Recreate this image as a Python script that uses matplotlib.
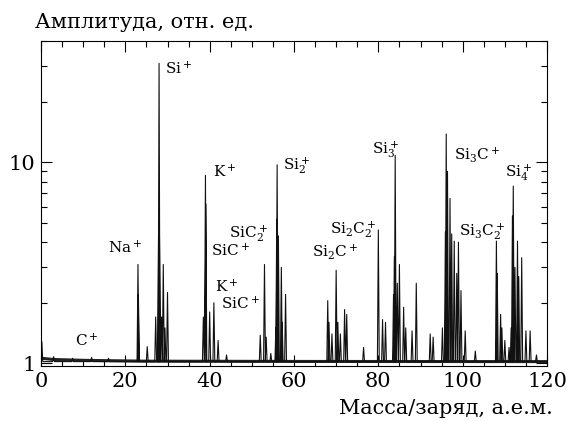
import matplotlib.pyplot as plt
import numpy as np
from matplotlib.ticker import MultipleLocator, LogLocator, NullFormatter, FixedLocator

plt.rcParams["font.family"] = "DejaVu Serif"
plt.rcParams["mathtext.fontset"] = "dejavuserif"

# peak positions (a.m.u.) and amplitudes
peak_mass = [0.2, 3.0, 7.5, 12.0, 16.0, 23.0, 23.1, 25.2, 27.2, 27.9, 28.0, 28.1,
             28.6, 29.0, 29.4, 30.0, 38.5, 39.0, 39.1, 40.0, 41.0, 42.0, 44.0,
             52.0, 53.0, 53.4, 54.5, 55.7, 55.9, 56.0, 56.3, 57.0, 57.2, 58.0,
             68.0, 68.3, 69.0, 70.0, 70.4, 71.0, 72.0, 72.5, 76.5, 80.0, 81.0,
             81.7, 83.6, 83.8, 84.0, 84.5, 85.0, 86.0, 86.5, 88.0, 89.0, 92.3,
             93.0, 95.2, 95.9, 96.1, 96.4, 97.0, 97.4, 98.0, 98.6, 99.0, 99.6,
             100.6, 103.0, 108.0, 108.2, 109.0, 109.3, 110.0, 111.0, 111.5,
             111.8, 112.0, 112.4, 113.0, 113.3, 114.0, 115.0, 116.0, 117.5]
peak_amp = [1.28, 1.08, 1.06, 1.07, 1.06, 3.1, 2.2, 1.21, 1.7, 5.1, 31.0, 4.2,
            1.7, 3.1, 1.5, 2.25, 1.7, 8.6, 6.2, 1.8, 2.0, 1.3, 1.1,
            1.38, 3.1, 1.35, 1.12, 1.5, 5.2, 9.7, 4.3, 3.0, 1.6, 2.2,
            2.05, 1.6, 1.4, 2.9, 1.6, 1.4, 1.85, 1.75, 1.2, 4.6, 1.65,
            1.6, 2.2, 3.4, 10.8, 2.5, 3.1, 1.9, 1.5, 1.45, 2.5, 1.4,
            1.35, 1.5, 4.5, 13.8, 9.0, 6.6, 4.4, 4.05, 2.8, 4.0, 2.3,
            1.45, 1.15, 4.05, 2.8, 1.75, 1.5, 1.3, 1.2, 1.5,
            5.4, 7.6, 3.0, 4.05, 2.7, 3.35, 1.45, 1.45, 1.1]
base_level = 1.02

# noisy background level read at a few masses
bg_mass = [0, 3, 10, 25, 60, 120]
bg_amp = [1.06, 1.045, 1.035, 1.025, 1.022, 1.02]

# annotations: text, mass, amplitude
label_text = [r"$\mathrm{C}^+$", r"$\mathrm{Na}^+$", r"$\mathrm{Si}^+$", r"$\mathrm{K}^+$",
              r"$\mathrm{SiC}_2^+$", r"$\mathrm{SiC}^+$", r"$\mathrm{K}^+$", r"$\mathrm{SiC}^+$",
              r"$\mathrm{Si}_2^+$", r"$\mathrm{Si}_2\mathrm{C}^+$", r"$\mathrm{Si}_2\mathrm{C}_2^+$",
              r"$\mathrm{Si}_3^+$", r"$\mathrm{Si}_3\mathrm{C}^+$", r"$\mathrm{Si}_3\mathrm{C}_2^+$",
              r"$\mathrm{Si}_4^+$"]
label_mass = [8.1, 15.9, 29.4, 40.8, 44.6, 40.3, 41.3, 42.7, 57.4, 64.3, 68.5,
              78.5, 98.0, 99.2, 110.0]
label_amp = [1.30, 3.75, 29.0, 9.0, 4.4, 3.65, 2.4, 1.98, 9.6, 3.6, 4.6,
             11.5, 10.9, 4.5, 8.9]

w = 0.22
order = np.argsort(peak_mass, kind="stable")
xs, ys = [0.0], [1.05]
for i in order:
    m, a = peak_mass[i], peak_amp[i]
    xs += [m - w, m, m + w]
    ys += [base_level, a, base_level]
xs.append(120.0)
ys.append(base_level)

fig = plt.figure(figsize=(5.67, 4.21), dpi=100)
ax = fig.add_axes([41 / 567, 1 - 366 / 421, 506 / 567, 325 / 421])
ax.plot(bg_mass, bg_amp, color="#222222", lw=2.2, solid_capstyle="butt")
ax.plot(xs, ys, color="#111111", lw=0.8)

ax.set_yscale("log")
ax.set_xlim(0, 120)
ax.set_ylim(0.97, 40)
ax.xaxis.set_major_locator(MultipleLocator(20))
ax.xaxis.set_minor_locator(MultipleLocator(5))
ax.yaxis.set_major_locator(FixedLocator([1, 10]))
ax.yaxis.set_major_formatter(plt.FixedFormatter(["1", "10"]))
ax.yaxis.set_minor_locator(LogLocator(base=10, subs=np.arange(2, 10)))
ax.yaxis.set_minor_formatter(NullFormatter())
ax.tick_params(which="both", direction="in", top=True, right=True, labelsize=15, pad=4)
ax.tick_params(which="major", length=8, width=0.8)
ax.tick_params(which="minor", length=4, width=0.8)

for t, m, a in zip(label_text, label_mass, label_amp):
    ax.text(m, a, t, fontsize=11, ha="left", va="center")

fig.text(35 / 567, 1 - 22 / 421, "Амплитуда, отн. ед.", fontsize=15, ha="left", va="center")
fig.text(553 / 567, 1 - 408 / 421, "Масса/заряд, а.е.м.", fontsize=15, ha="right", va="center")

plt.savefig("out.png", dpi=100)
